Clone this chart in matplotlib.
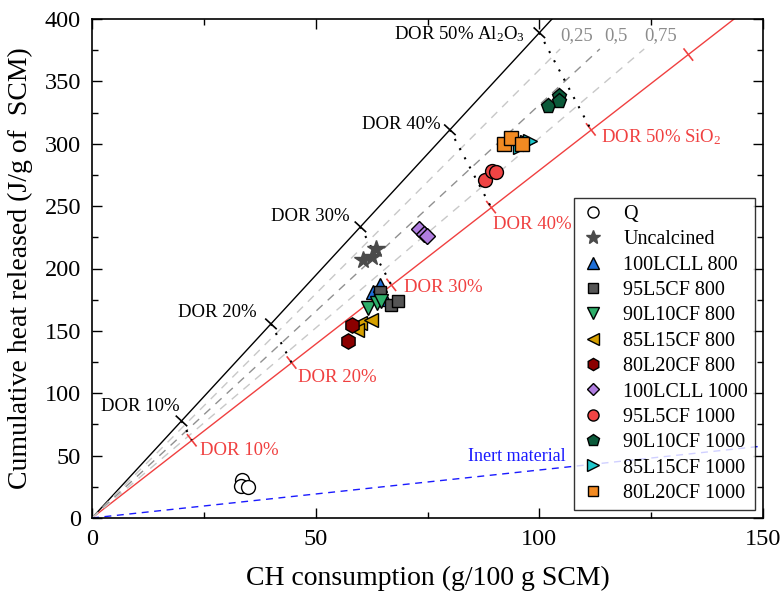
import matplotlib
matplotlib.use('Agg')
import matplotlib.pyplot as plt
import numpy as np
from matplotlib.ticker import MultipleLocator

plt.rcParams['font.family'] = ['Liberation Serif', 'DejaVu Serif']
plt.rcParams['mathtext.fontset'] = 'custom'
plt.rcParams['mathtext.rm'] = 'Liberation Serif'
plt.rcParams['mathtext.it'] = 'Liberation Serif:italic'

# reference lines: degree of reaction of pure Al2O3 / pure SiO2
dor_levels = [10, 20, 30, 40, 50, 60]
al_ch = [20, 40, 60, 80, 100, 120]
al_heat = [77.8, 155.6, 233.4, 311.2, 389.0, 466.8]
si_ch = [22.3, 44.6, 66.9, 89.2, 111.5, 133.3]
si_heat = [62.3, 124.6, 186.9, 249.2, 311.5, 371.5]

mix_fractions = [0.25, 0.5, 0.75]
mix_labels = ['0,25', '0,5', '0,75']
mix_top_heat = 376

inert_ch = [0, 150]
inert_heat = [0, 57.7]

# measured samples
names = ['Q', 'Uncalcined', '100LCLL 800', '95L5CF 800', '90L10CF 800',
         '85L15CF 800', '80L20CF 800', '100LCLL 1000', '95L5CF 1000',
         '90L10CF 1000', '85L15CF 1000', '80L20CF 1000']
ch = [[33.5, 33.2, 34.9],
      [60.5, 62.6, 63.5],
      [62.8, 64.4, 65.5],
      [64.3, 66.8, 68.4],
      [61.8, 63.8, 64.6],
      [59.8, 62.3, 59.3],
      [58.1, 57.3],
      [73.0, 74.2, 74.9],
      [87.9, 89.4, 90.2],
      [101.9, 104.3, 104.4],
      [95.7, 97.2, 98.0],
      [92.2, 93.7, 96.1]]
heat = [[30.5, 25.5, 24.5],
        [206.5, 209.5, 215.5],
        [181.4, 186.8, 175.3],
        [180.9, 170.7, 174.2],
        [168.0, 172.6, 173.8],
        [156.5, 158.7, 150.5],
        [155.0, 142.0],
        [231.5, 228.0, 226.0],
        [271.0, 278.4, 277.6],
        [330.3, 338.5, 334.0],
        [297.6, 301.6, 302.2],
        [299.8, 304.4, 299.8]]

markers = ['o', '*', '^', 's', 'v', '<', 'h', 'D', 'o', 'p', '>', 's']
colors = ['white', '#4a4a4a', '#1f6fd8', '#555555', '#2fae6a', '#d6a000',
          '#8b0000', '#b07de0', '#f04444', '#0b5a3a', '#1ec8cc', '#f28a22']
sizes = [10, 13, 10, 9, 10, 10, 11, 8, 10, 11, 10, 9.5]

fig = plt.figure(figsize=(7.83, 6), dpi=100)
ax = fig.add_axes([0.1175, 0.1367, 0.857, 0.8316])
ax.set_xlim(0, 150)
ax.set_ylim(0, 400)

# main reaction lines
ax.plot([0, al_ch[-1]], [0, al_heat[-1]], color='black', lw=1)
ax.plot([0, si_ch[-1] * 1.2], [0, si_heat[-1] * 1.2], color='#f04040', lw=1)

# intermediate Al/Si mixtures
for f, lab in zip(mix_fractions, mix_labels):
    px = al_ch[4] + f * (si_ch[4] - al_ch[4])
    py = al_heat[4] + f * (si_heat[4] - al_heat[4])
    slope = py / px
    x_end = mix_top_heat / slope
    col = '#909090' if f == 0.5 else '#c8c8c8'
    ax.plot([0, x_end], [0, mix_top_heat], color=col, lw=1, dashes=(6, 5))
    ax.annotate(lab, (x_end, mix_top_heat), xytext=(16, 13),
                textcoords='offset pixels', ha='center', va='center',
                fontsize=13.5, color='#8c8c8c')

# inert material
ax.plot(inert_ch, inert_heat, color='#1a1aff', lw=1, dashes=(5, 4))
ax.annotate('Inert material', (95, 95 * inert_heat[1] / inert_ch[1]),
            xytext=(0, 16), textcoords='offset pixels', ha='center',
            va='center', fontsize=13, color='#1a1aff')


def cross_tick(x, y, color, half=7):
    p = ax.transData.transform((x, y))
    o = ax.transData.transform((0, 0))
    d = (p - o) / np.hypot(*(p - o))
    n = np.array([-d[1], d[0]])
    pts = ax.transData.inverted().transform([p - half * n, p + half * n])
    ax.plot(pts[:, 0], pts[:, 1], color=color, lw=1.2)


al_offsets = [(-2, 14), (-14, 11), (-11, 10), (-9, 5), (-14, -1)]
si_offsets = [(8, -10), (6, -15), (13, -3), (2, -17), (10, -8)]
for i, d in enumerate(dor_levels):
    cross_tick(si_ch[i], si_heat[i], '#f04040')
    if d > 50:
        continue
    cross_tick(al_ch[i], al_heat[i], 'black')
    ax.plot([al_ch[i], si_ch[i]], [al_heat[i], si_heat[i]], color='black',
            lw=1.5, dashes=(1, 4))
    al_txt = f'DOR {d}%' if d < 50 else r'DOR 50% Al$_2$O$_3$'
    si_txt = f'DOR {d}%' if d < 50 else r'DOR 50% SiO$_2$'
    ax.annotate(al_txt, (al_ch[i], al_heat[i]), xytext=al_offsets[i],
                textcoords='offset pixels', ha='right', va='center',
                fontsize=13.5, color='black')
    ax.annotate(si_txt, (si_ch[i], si_heat[i]), xytext=si_offsets[i],
                textcoords='offset pixels', ha='left', va='center',
                fontsize=13.5, color='#f04040')

for name, xs, ys, m, c, s in zip(names, ch, heat, markers, colors, sizes):
    edge = c if m == '*' else 'black'
    ax.plot(xs, ys, linestyle='none', marker=m, markersize=s,
            markerfacecolor=c, markeredgecolor=edge, markeredgewidth=1,
            label=name, zorder=5)

leg = ax.legend(loc='lower right', fontsize=14.5, frameon=True, fancybox=False,
                edgecolor='black', handlelength=1.2, handletextpad=0.9,
                labelspacing=0.31, borderpad=0.35, borderaxespad=0.4,
                markerscale=0.8)
leg.get_frame().set_linewidth(1)

ax.xaxis.set_major_locator(MultipleLocator(50))
ax.xaxis.set_minor_locator(MultipleLocator(25))
ax.yaxis.set_major_locator(MultipleLocator(50))
ax.yaxis.set_minor_locator(MultipleLocator(25))
ax.tick_params(which='both', direction='in', top=True, right=True,
               labelsize=17.5, width=1)
ax.tick_params(which='major', length=7, pad=8)
ax.tick_params(which='minor', length=4)
for sp in ax.spines.values():
    sp.set_linewidth(1.2)

ax.set_xlabel('CH consumption (g/100 g SCM)', fontsize=20, labelpad=11)
ax.set_ylabel('Cumulative heat released (J/g of  SCM)', fontsize=20,
              labelpad=8)

fig.savefig('out.png', dpi=100)
